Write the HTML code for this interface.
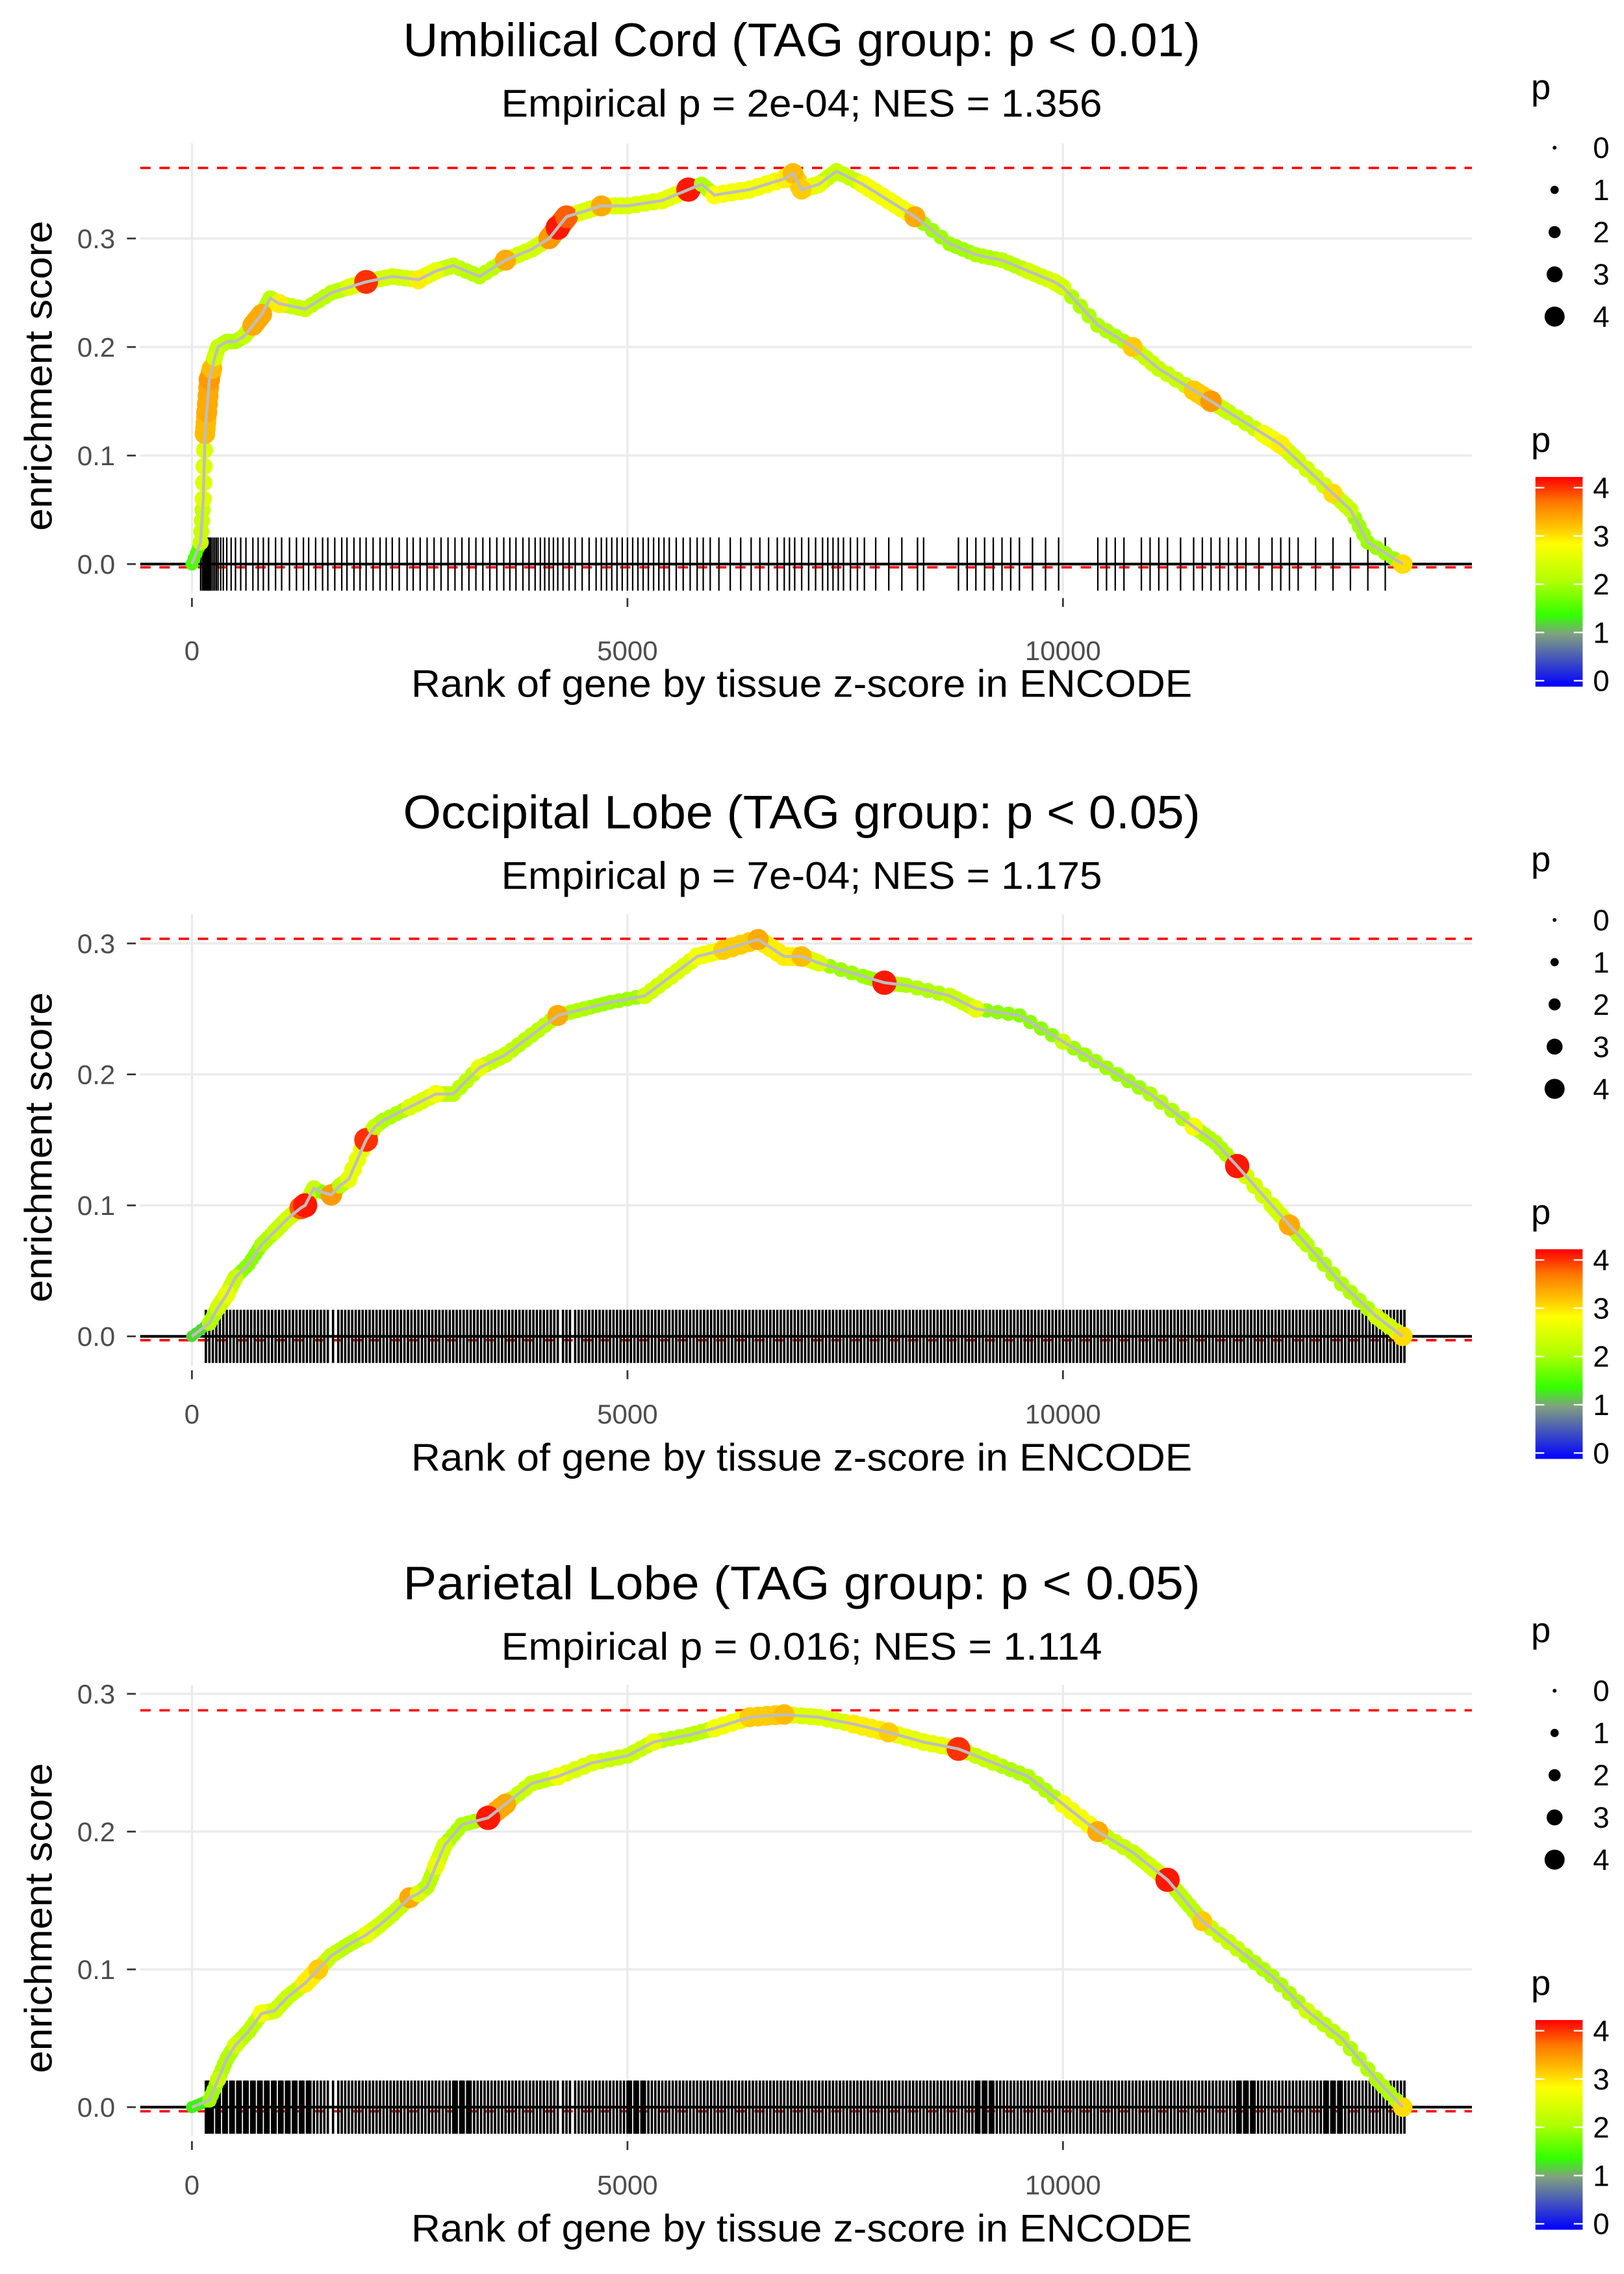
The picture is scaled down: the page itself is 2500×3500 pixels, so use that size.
<!DOCTYPE html>
<html><head><meta charset="utf-8">
<style>
html,body{margin:0;padding:0;background:#fff;}
svg{display:block;}
text{font-family:"Liberation Sans",sans-serif;}
</style></head>
<body>
<svg id="chart" width="2500" height="3500" viewBox="0 0 1100 1540" xmlns="http://www.w3.org/2000/svg">
<defs>
<linearGradient id="pgrad" x1="0" y1="1" x2="0" y2="0">
<stop offset="0" stop-color="#0000ff"/>
<stop offset="0.25" stop-color="#80a080"/>
<stop offset="0.34" stop-color="#33ff00"/>
<stop offset="0.5" stop-color="#b0ff00"/>
<stop offset="0.68" stop-color="#ffff00"/>
<stop offset="0.75" stop-color="#ffcc00"/>
<stop offset="0.88" stop-color="#ff7700"/>
<stop offset="1" stop-color="#ff0000"/>
</linearGradient>
</defs>
</svg>
<script>
// ---- data ----
const titles = ["Umbilical Cord (TAG group: p < 0.01)","Occipital Lobe (TAG group: p < 0.05)","Parietal Lobe (TAG group: p < 0.05)"];
const subtitles = ["Empirical p = 2e-04; NES = 1.356","Empirical p = 7e-04; NES = 1.175","Empirical p = 0.016; NES = 1.114"];
const xTicks = [0,5000,10000];
const xTickLabels = ["0","5000","10000"];
const yTicks = [0,0.1,0.2,0.3];
const yTickLabels = ["0.0","0.1","0.2","0.3"];
const maxES = [0.365,0.3035,0.288];
const minES = [-0.003,-0.003,-0.003];

const ranks1 = [0,100,130,150,170,200,230,260,300,400,500,600,700,800,900,1000,1300,1600,1800,2000,2300,2600,2800,3000,3300,3600,3900,4100,4200,4300,4500,4700,5000,5400,5700,5850,6000,6400,6800,6900,7000,7200,7400,7700,8000,8300,8700,9000,9300,9600,9900,10000,10400,10800,11100,11500,11700,11900,12300,12500,12700,13100,13300,13500,13900];
const es1 =    [0,0.02,0.06,0.12,0.14,0.17,0.18,0.19,0.2,0.205,0.205,0.21,0.22,0.23,0.245,0.24,0.235,0.25,0.255,0.26,0.265,0.262,0.27,0.275,0.265,0.28,0.29,0.3,0.31,0.32,0.325,0.33,0.33,0.335,0.345,0.35,0.34,0.345,0.355,0.36,0.345,0.35,0.362,0.35,0.335,0.32,0.295,0.285,0.28,0.27,0.26,0.255,0.22,0.2,0.18,0.16,0.15,0.14,0.12,0.11,0.095,0.065,0.05,0.02,0.0];
const p1 =     [1.5,2.2,2.4,3.1,3.2,3.3,3.1,2.3,2.2,2.1,2.0,2.2,3.2,3.2,2.1,2.8,2.2,2.1,2.4,3.8,2.3,2.8,2.5,2.2,2.1,3.2,2.3,3.3,3.9,3.6,2.4,3.2,2.4,2.5,3.9,2.0,2.7,2.6,2.8,3.1,3.0,2.5,2.2,2.6,2.6,3.2,1.9,2.0,2.1,2.3,2.4,2.3,2.0,3.0,2.2,3.0,3.3,2.2,2.6,2.8,2.3,2.9,2.2,1.9,2.9];
const rug1 = [100,120,130,140,150,160,170,180,190,200,210,220,240,260,280,300,330,360,400,450,500,560,620,700,760,820,880,960,1030,1120,1200,1280,1340,1420,1500,1560,1640,1720,1780,1860,1930,2000,2080,2160,2230,2300,2380,2470,2540,2620,2700,2780,2860,2940,3020,3100,3180,3260,3340,3420,3500,3580,3650,3720,3800,3870,3940,4000,4050,4100,4150,4200,4260,4330,4400,4480,4560,4640,4700,4760,4820,4880,4940,5000,5060,5120,5180,5240,5300,5360,5420,5480,5560,5640,5720,5800,5870,5950,6050,6180,6300,6420,6520,6620,6720,6800,6860,6920,7000,7080,7160,7240,7300,7360,7420,7480,7560,7640,7720,7850,8000,8150,8330,8400,8800,8900,9000,9100,9200,9300,9400,9500,9650,9800,9950,10400,10500,10600,10700,10900,11000,11100,11200,11350,11500,11600,11700,11800,11900,12000,12100,12250,12400,12500,12600,12700,12900,13100,13300,13500,13700];

const ranks2 = [0,200,300,400,500,650,800,950,1100,1250,1300,1400,1500,1600,1700,1800,2000,2100,2200,2500,2800,3000,3300,3600,3900,4200,4500,4800,5200,5500,5800,6100,6500,6800,7000,7200,7700,7950,8200,8700,9000,9500,10000,10500,11000,11500,11750,12000,12400,12600,12800,13200,13600,13900];
const es2 =    [0,0.01,0.022,0.032,0.045,0.055,0.07,0.08,0.09,0.098,0.1,0.113,0.11,0.108,0.115,0.12,0.15,0.16,0.165,0.175,0.185,0.185,0.205,0.215,0.23,0.245,0.25,0.255,0.26,0.275,0.29,0.295,0.303,0.29,0.29,0.285,0.275,0.27,0.268,0.26,0.25,0.245,0.225,0.205,0.185,0.16,0.148,0.13,0.1,0.085,0.07,0.04,0.015,0.0];
const p2 =     [1.2,2.0,2.3,2.5,2.2,1.8,2.0,2.2,2.3,3.6,3.9,2.2,1.8,3.3,2.1,2.5,3.8,2.2,2.0,2.4,2.6,2.1,2.5,2.2,2.1,3.2,2.0,1.9,2.3,2.4,2.6,3.0,3.2,2.8,3.1,2.4,1.9,3.9,2.0,2.2,2.5,1.8,2.2,1.9,2.0,2.6,2.0,3.9,2.3,3.2,2.1,2.0,2.3,2.9];
const rug2 = [160,200,240,280,320,360,400,440,480,520,560,600,640,680,720,760,800,840,880,920,960,1000,1040,1080,1120,1160,1200,1240,1280,1320,1360,1400,1440,1480,1520,1560,1620,1680,1720,1760,1800,1840,1880,1920,1960,2000,2040,2080,2120,2160,2200,2240,2280,2320,2360,2400,2440,2480,2520,2560,2600,2640,2680,2720,2760,2800,2840,2880,2920,2960,3000,3040,3080,3120,3160,3200,3240,3280,3320,3360,3400,3440,3480,3520,3560,3600,3640,3680,3720,3760,3800,3840,3880,3920,3960,4000,4040,4080,4120,4160,4200,4260,4300,4340,4400,4440,4480,4520,4560,4600,4640,4680,4720,4760,4800,4840,4880,4920,4960,5000,5040,5080,5120,5160,5200,5240,5280,5320,5360,5400,5440,5480,5520,5560,5600,5640,5680,5720,5760,5800,5840,5880,5920,5960,6000,6040,6080,6120,6160,6200,6240,6280,6320,6360,6400,6440,6480,6520,6560,6600,6640,6680,6720,6760,6800,6840,6880,6920,6960,7000,7040,7080,7120,7160,7200,7240,7280,7320,7360,7400,7440,7480,7520,7560,7600,7640,7680,7720,7760,7800,7840,7880,7920,7960,8000,8040,8080,8120,8160,8200,8240,8280,8320,8360,8400,8440,8480,8520,8560,8600,8640,8680,8720,8760,8800,8840,8880,8920,8960,9000,9040,9080,9120,9160,9200,9240,9280,9320,9360,9400,9440,9480,9520,9560,9600,9640,9680,9720,9760,9800,9840,9880,9920,9960,10000,10040,10080,10120,10160,10200,10240,10280,10320,10360,10400,10440,10480,10520,10560,10600,10640,10680,10720,10760,10800,10840,10880,10920,10960,11000,11040,11080,11120,11160,11200,11240,11280,11320,11360,11400,11440,11480,11520,11560,11600,11640,11680,11720,11760,11800,11840,11880,11920,11960,12000,12040,12080,12120,12160,12200,12240,12280,12320,12360,12400,12440,12480,12520,12560,12600,12640,12680,12720,12760,12800,12840,12880,12920,12960,13000,13040,13080,13120,13160,13200,13240,13280,13320,13360,13400,13440,13480,13520,13560,13600,13640,13680,13720,13760,13800,13840,13880,13920];

const ranks3 = [0,200,300,400,500,650,800,950,1100,1300,1450,1600,1800,2000,2150,2300,2500,2600,2700,2800,2900,3100,3400,3600,3900,4200,4600,5000,5300,5700,6000,6400,6800,7200,7600,8000,8400,8800,9200,9600,10000,10400,10800,11000,11200,11400,11600,12000,12400,12800,13200,13600,13900];
const es3 =    [0,0.005,0.02,0.035,0.045,0.055,0.068,0.07,0.08,0.09,0.1,0.11,0.118,0.125,0.132,0.14,0.152,0.155,0.16,0.175,0.19,0.205,0.21,0.22,0.235,0.24,0.25,0.255,0.265,0.27,0.275,0.283,0.285,0.283,0.278,0.272,0.265,0.26,0.25,0.24,0.22,0.2,0.185,0.175,0.165,0.15,0.135,0.115,0.095,0.07,0.05,0.02,0.0];
const p3 =     [1.3,1.9,2.2,2.0,2.3,2.1,2.6,2.3,2.2,2.8,3.0,2.2,2.1,2.5,2.3,2.2,3.2,2.4,2.1,2.5,2.3,2.0,3.9,3.2,2.2,2.6,2.4,2.2,2.5,2.1,2.6,3.0,3.1,2.4,2.8,3.0,2.5,3.8,2.2,2.0,2.6,3.2,2.2,2.3,3.9,2.1,3.0,2.2,2.0,2.3,2.1,2.0,2.9];
const rug3 = rug2.concat([180,220,300,380,460,540,620,700,780,860,940,1020,1100,1180,1260,1340,3020,3100,3180,5020,5100,5180,9020,9100,9180,12020,12100,12180,13020,13100,13180]);

const panelRanks=[ranks1,ranks2,ranks3], panelES=[es1,es2,es3], panelP=[p1,p2,p3], panelRug=[rug1,rug2,rug3];
// ---- layout ----
const layout = [
 {top:97, bot:402, y0:382, pxPer:735, title:27, sub:70, tick:440, xlab:463},
 {top:619, bot:925, y0:905, pxPer:887, title:550, sub:593, tick:957, xlab:987},
 {top:1141, bot:1447, y0:1427, pxPer:933, title:1072, sub:1115, tick:1479, xlab:1509}
];
const L=95, R=997;
const xs = r => 130 + r*0.059;
const NS="http://www.w3.org/2000/svg";
const svg=document.getElementById('chart');
function mk(tag, attrs, parent){const e=document.createElementNS(NS,tag);for(const k in attrs)e.setAttribute(k,attrs[k]);(parent||svg).appendChild(e);return e;}
function pcol(p){
  const st=[[0,[0,0,255]],[1,[128,160,128]],[1.35,[51,255,0]],[2,[176,255,0]],[2.7,[255,255,0]],[3,[255,204,0]],[3.5,[255,119,0]],[4,[255,0,0]]];
  p=Math.max(0,Math.min(4,p));
  for(let i=1;i<st.length;i++){if(p<=st[i][0]){const a=st[i-1],b=st[i],t=(p-a[0])/(b[0]-a[0]);const c=a[1].map((v,j)=>Math.round(v+(b[1][j]-v)*t));return `rgb(${c})`;}}
  return 'rgb(255,0,0)';
}
const prad = p => 2 + p*1.6;

layout.forEach((g,i)=>{
  const ys = v => g.y0 - v*g.pxPer;
  const grp=mk('g',{});
  
  
  let t=mk('text',{x:543,y:g.title+11,'font-size':32,'text-anchor':'middle',fill:'#000',textLength:540,lengthAdjust:'spacingAndGlyphs'},grp);t.textContent=titles[i];
  
  t=mk('text',{x:543,y:g.sub+9,'font-size':26,'text-anchor':'middle',fill:'#000',textLength:407,lengthAdjust:'spacingAndGlyphs'},grp);t.textContent=subtitles[i];
  
  // gridlines
  yTicks.forEach((v,k)=>{
    const y=ys(v);
    const gl=mk('line',{x1:L,x2:R,y1:y,y2:y,stroke:'#ebebeb','stroke-width':1.5},grp);
    
    mk('line',{x1:86,x2:92,y1:y,y2:y,stroke:'#333','stroke-width':1.2},grp);
    const tl=mk('text',{x:78,y:y+6.5,'font-size':18.5,'text-anchor':'end',fill:'#4d4d4d'},grp);tl.textContent=yTickLabels[k];
    
  });
  xTicks.forEach((v,k)=>{
    const x=xs(v);
    const gl=mk('line',{x1:x,x2:x,y1:g.top,y2:g.bot,stroke:'#ebebeb','stroke-width':1.5},grp);
    
    mk('line',{x1:x,x2:x,y1:g.bot+3,y2:g.bot+9,stroke:'#333','stroke-width':1.2},grp);
    const tl=mk('text',{x:x,y:g.tick+7,'font-size':18.5,'text-anchor':'middle',fill:'#4d4d4d'},grp);tl.textContent=xTickLabels[k];
    
  });
  t=mk('text',{x:543,y:g.xlab+9,'font-size':26,'text-anchor':'middle',fill:'#000',textLength:529,lengthAdjust:'spacingAndGlyphs'},grp);t.textContent='Rank of gene by tissue z-score in ENCODE';
  
  const cy=(g.top+g.bot)/2+5;
  t=mk('text',{x:0,y:0,'font-size':26,'text-anchor':'middle',fill:'#000',textLength:210,lengthAdjust:'spacingAndGlyphs',transform:`translate(35,${cy}) rotate(-90)`},grp);t.textContent='enrichment score';
  
  // dashed lines
  let d=mk('line',{x1:L,x2:R,y1:ys(maxES[i]),y2:ys(maxES[i]),stroke:'#ff0000','stroke-width':1.6,'stroke-dasharray':'7,6'},grp);
  
  d=mk('line',{x1:L,x2:R,y1:ys(minES[i]),y2:ys(minES[i]),stroke:'#ff0000','stroke-width':1.6,'stroke-dasharray':'7,6'},grp);
  
  // rug
  const rug=mk('g',{},grp);
  
  panelRug[i].forEach(r=>{
    const ln=mk('line',{x1:xs(r),x2:xs(r),y1:g.y0-18,y2:g.y0+18,stroke:'#000','stroke-width':i===0?1.0:1.6},rug);
    
    
  });
  const z=mk('line',{x1:L,x2:R,y1:g.y0,y2:g.y0,stroke:'#000','stroke-width':1.8},grp);
  
  // dots
  const rk=panelRanks[i], es=panelES[i], pp=panelP[i];
  const dots=mk('g',{},grp);
  
  for(let k=0;k<rk.length;k++){
    if(k<rk.length-1){
      for(const f of [0.25,0.5,0.75]){
        const mx=rk[k]+(rk[k+1]-rk[k])*f, my=es[k]+(es[k+1]-es[k])*f, mp=Math.min(pp[k],pp[k+1]);
        const c2=mk('circle',{cx:xs(mx),cy:ys(my),r:prad(mp),fill:pcol(mp)},dots);
        
        
      }
    }
  }
  for(let k=0;k<rk.length;k++){
    const c=mk('circle',{cx:xs(rk[k]),cy:ys(es[k]),r:prad(pp[k]),fill:pcol(pp[k])},dots);
    
    
  }
  const pts=rk.map((r,k)=>xs(r)+','+ys(es[k])).join(' ');
  const pl=mk('polyline',{points:pts,fill:'none',stroke:'#bebebe','stroke-width':2},grp);
  
  // legends
  const lg=mk('g',{},grp);
  
  const base=g.title;
  t=mk('text',{x:1037,y:base+40,'font-size':24,fill:'#000'},lg);t.textContent='p';
  [0,1,2,3,4].forEach((v,k)=>{
    const yy=base+73+k*28.6;
    mk('circle',{cx:1053,cy:yy,r:[1.3,2.8,4.1,5.4,6.8][k],fill:'#000'},lg);
    const tl=mk('text',{x:1079,y:yy+7,'font-size':20,fill:'#000'},lg);tl.textContent=String(v);
  });
  const cg=mk('g',{},grp);
  
  t=mk('text',{x:1037,y:base+279,'font-size':24,fill:'#000'},cg);t.textContent='p';
  const cbTop=base+296, cbBot=base+438;
  mk('rect',{x:1040,y:cbTop,width:32,height:cbBot-cbTop,fill:'url(#pgrad)'},cg);
  [0,1,2,3,4].forEach(v=>{
    const yy=cbBot-4-v*(cbBot-cbTop-8)/4.1;
    mk('line',{x1:1040,x2:1046,y1:yy,y2:yy,stroke:'#fff','stroke-width':1},cg);
    mk('line',{x1:1066,x2:1072,y1:yy,y2:yy,stroke:'#fff','stroke-width':1},cg);
    const tl=mk('text',{x:1079,y:yy+7,'font-size':20,fill:'#000'},cg);tl.textContent=String(v);
  });
});
</script>
</body></html>
